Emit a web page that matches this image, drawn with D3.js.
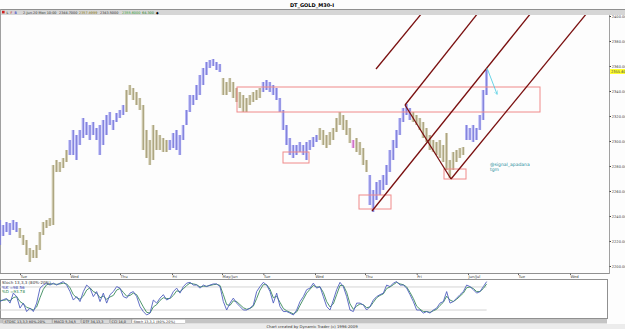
<!DOCTYPE html>
<html>
<head>
<meta charset="utf-8">
<script src="https://cdn.jsdelivr.net/npm/d3@7"></script>
<style>
body { margin: 0; background: #ffffff; }
svg text { font-family: "DejaVu Sans", sans-serif; }
</style>
</head>
<body>
<div id="chart"></div>
<script>
// price bars (one slot per bar)
var priceHigh = [
    2236.8, 2232.8, 2235.2, 2234.4, 2236.8, 2235.2, 2230.4, 2224.8, 2220.8, 2214.4,
    2212.8, 2216.8, 2227.2, 2235.2, 2236.8, 2238.4, 2280.8, 2284.8, 2283.2, 2286.4,
    2292.8, 2300.8, 2308.8, 2304.8, 2308.8, 2318.4, 2315.2, 2312.8, 2315.2, 2310.4,
    2312.8, 2316.8, 2320.8, 2323.2, 2316.8, 2322.4, 2324.8, 2328.8, 2340.8, 2344.8,
    2342.4, 2339.2, 2334.4, 2328.8, 2308.8, 2300.8, 2312.8, 2308.8, 2304.8, 2302.4,
    2300.8, 2300.8, 2306.4, 2308.8, 2304.8, 2312.8, 2324.8, 2336.8, 2336.8, 2344.8,
    2352.8, 2358.4, 2363.2, 2364.8, 2365.6, 2363.2, 2361.6, 2350.4, 2347.2, 2350.4,
    2347.2, 2342.4, 2339.2, 2336.8, 2334.4, 2336.8, 2339.2, 2340.8, 2342.4, 2347.2,
    2348.8, 2347.2, 2344.8, 2342.4, 2334.4, 2324.8, 2312.8, 2302.4, 2296.8, 2296.8,
    2299.2, 2296.8, 2299.2, 2300.8, 2303.2, 2304.8, 2310.4, 2308.8, 2304.8, 2307.2,
    2310.4, 2318.4, 2323.2, 2320.8, 2316.8, 2310.4, 2300.8, 2302.4, 2299.2, 2294.4,
    2284.8, 2272.8, 2260.8, 2267.2, 2268.8, 2272.8, 2280.8, 2292.8, 2300.8, 2308.8,
    2318.4, 2326.4, 2329.6, 2326.4, 2323.2, 2320.8, 2318.4, 2315.2, 2310.4, 2304.8,
    2300.8, 2299.2, 2300.8, 2296.8, 2306.4, 2284.8, 2291.2, 2292.8, 2294.4, 2295.2,
    2312.8, 2310.4, 2312.8, 2310.4, 2320.8, 2340.8, 2356.8
];
var priceLow = [
    2216.8, 2224.0, 2227.2, 2224.8, 2228.8, 2227.2, 2222.4, 2216.8, 2208.8, 2203.2,
    2206.4, 2206.4, 2212.8, 2224.8, 2230.4, 2232.0, 2232.8, 2275.2, 2275.2, 2278.4,
    2283.2, 2288.8, 2288.8, 2284.8, 2296.8, 2302.4, 2304.8, 2300.8, 2304.8, 2300.8,
    2288.8, 2296.8, 2304.8, 2312.8, 2308.8, 2315.2, 2318.4, 2320.8, 2323.2, 2336.8,
    2332.8, 2328.8, 2324.8, 2292.8, 2286.4, 2280.8, 2284.8, 2292.8, 2292.8, 2291.2,
    2291.2, 2292.8, 2294.4, 2292.8, 2288.8, 2300.8, 2312.8, 2323.2, 2328.8, 2332.8,
    2336.8, 2344.8, 2352.8, 2358.4, 2360.0, 2356.8, 2355.2, 2336.8, 2336.8, 2339.2,
    2334.4, 2331.2, 2326.4, 2323.2, 2323.2, 2328.8, 2331.2, 2332.8, 2334.4, 2339.2,
    2340.8, 2339.2, 2336.8, 2332.8, 2323.2, 2308.8, 2296.8, 2288.8, 2286.4, 2288.8,
    2291.2, 2288.8, 2284.8, 2292.8, 2295.2, 2299.2, 2300.8, 2296.8, 2294.4, 2296.8,
    2300.8, 2307.2, 2312.8, 2308.8, 2304.8, 2298.4, 2294.4, 2291.2, 2288.8, 2280.8,
    2275.2, 2248.8, 2243.2, 2252.8, 2256.8, 2260.8, 2264.8, 2275.2, 2284.8, 2294.4,
    2304.8, 2315.2, 2320.8, 2316.8, 2315.2, 2312.8, 2308.8, 2302.4, 2299.2, 2292.8,
    2291.2, 2288.8, 2286.4, 2283.2, 2276.8, 2270.4, 2276.8, 2283.2, 2286.4, 2288.8,
    2300.8, 2300.8, 2299.2, 2300.8, 2308.8, 2316.8, 2336.8
];
// colour runs of the bars: b = blue, k = khaki, p = pink
var barRuns = [["b", 6], ["k", 15], ["b", 17], ["k", 13], ["b", 16], ["k", 12], ["b", 17],
               ["k", 10], ["p", 1], ["k", 4], ["b", 13], ["k", 16], ["b", 7]];

// stochastic oscillator
var stochK = [
    42, 47, 50, 38, 64, 55, 25, 38, 16, 25,
    16, 38, 77, 85, 90, 85, 90, 85, 90, 94,
    85, 68, 46, 55, 42, 68, 85, 77, 55, 68,
    42, 64, 38, 60, 68, 81, 77, 55, 51, 64,
    68, 55, 29, 16, 7, 12, 46, 38, 51, 60,
    46, 51, 68, 77, 64, 81, 90, 92, 85, 85,
    77, 85, 81, 85, 88, 88, 81, 42, 20, 38,
    51, 38, 29, 20, 20, 25, 33, 68, 81, 92,
    85, 68, 38, 64, 29, 16, 16, 12, 7, 20,
    42, 55, 73, 77, 90, 77, 81, 55, 29, 20,
    46, 73, 92, 81, 55, 20, 16, 38, 38, 33,
    20, 29, 46, 55, 60, 64, 85, 81, 90, 94,
    85, 85, 77, 60, 42, 20, 20, 12, 16, 12,
    20, 25, 38, 42, 68, 38, 42, 51, 60, 68,
    85, 81, 73, 64, 68, 81, 94
];
var stochD = [
    45, 45, 47, 44, 52, 55, 42, 36, 27, 24,
    20, 28, 52, 74, 86, 88, 88, 87, 88, 90,
    88, 78, 60, 52, 48, 56, 72, 78, 68, 64,
    52, 56, 48, 54, 58, 72, 76, 66, 56, 58,
    64, 60, 44, 28, 14, 12, 28, 34, 45, 52,
    50, 50, 58, 70, 68, 75, 84, 90, 88, 86,
    80, 82, 82, 84, 86, 87, 84, 60, 34, 32,
    44, 42, 34, 26, 22, 24, 30, 50, 72, 86,
    86, 74, 52, 56, 40, 24, 18, 14, 10, 15,
    32, 48, 64, 74, 84, 80, 80, 66, 42, 28,
    36, 60, 84, 84, 66, 36, 22, 30, 36, 34,
    26, 28, 40, 52, 58, 62, 76, 80, 86, 92,
    88, 86, 80, 66, 50, 30, 22, 16, 16, 14,
    18, 22, 32, 40, 56, 46, 42, 48, 56, 64,
    78, 80, 76, 68, 68, 76, 88
];
var stochLevels = [80, 20];

// axes
var priceTicks = [2400, 2380, 2360, 2340, 2320, 2300, 2280, 2260, 2240, 2220, 2200];
var dayTicks = [6, 21, 36, 51.6, 66.6, 79, 94.5, 109.5, 125, 140.4, 155.4, 171];
var dayLabels = ["Tue", "Wed", "Thu", "Fri", "May/Jun", "Tue", "Wed", "Thu", "Fri", "Jun/Jul", "Tue", "Wed"];
var lastPrice = 2355.6;

// drawn annotations, in bar index / price
var zones = [
    [71.1, 162, 2343.2, 2323.2],
    [84.9, 92.7, 2291.2, 2282.4],
    [107.7, 117.3, 2256.8, 2245.6],
    [133.2, 139.8, 2277.6, 2269.6]
];
var channelLines = [
    [111.6, 2244.0, 159.3, 2402.4],
    [121.5, 2328.8, 143.4, 2402.4],
    [121.5, 2328.8, 135.3, 2269.6],
    [135.3, 2269.6, 176.1, 2402.4],
    [112.8, 2357.6, 126.6, 2402.4]
];
var arrowLine = [146.1, 2358.4, 149.1, 2337.6];

var width = 625,
    height = 329;

var x = d3.scaleLinear().domain([0, 183]).range([0, 610]);
var y = d3.scaleLinear().domain([2196, 2404]).range([271, 11]);
var yOsc = d3.scaleLinear().domain([0, 100]).range([317.7, 279.3]);

var colours = { b: "#8787f2", k: "#b9b184", p: "#e070d8" };
var barKind = [];
barRuns.forEach(function (r) {
    for (var j = 0; j < r[1]; j++) barKind.push(r[0]);
});

var svg = d3.select("#chart")
    .append("svg")
    .attr("width", width)
    .attr("height", height);

// background pieces
svg.append("rect").attr("width", width).attr("height", height).attr("fill", "#fdfdfd");
svg.append("rect").attr("x", 0).attr("y", 9).attr("width", width).attr("height", 6)
    .attr("fill", "#d6d6d6");
svg.append("line").attr("x1", 0).attr("x2", width).attr("y1", 9.5).attr("y2", 9.5)
    .attr("stroke", "#909090");
svg.append("line").attr("x1", 0.5).attr("x2", 0.5).attr("y1", 9).attr("y2", 274)
    .attr("stroke", "#a0a0a0");

svg.append("text").attr("x", 312).attr("y", 7).attr("text-anchor", "middle")
    .attr("font-size", 5).attr("font-weight", "bold").text("DT_GOLD_M30-I");

// header with the last bar
var hdr = svg.append("g").attr("font-size", 3.4);
hdr.append("rect").attr("x", 2).attr("y", 10.8).attr("width", 2.6).attr("height", 2.6).attr("fill", "#d02020");
hdr.append("text").attr("x", 6.5).attr("y", 13.6).attr("fill", "#000").text("L");
hdr.append("text").attr("x", 10.5).attr("y", 13.6).attr("fill", "#c00000").text("F");
hdr.append("text").attr("x", 14.5).attr("y", 13.6).attr("fill", "#0000c0").text("B");
var hdrParts = [
    ["2-Jun-20 Mon 10:00", "#303030", 23],
    ["2344.7000", "#303030", 59],
    ["2357.8999", "#807000", 79],
    ["2343.5000", "#303030", 100],
    ["2355.6000", "#30a030", 122],
    ["64.300", "#208020", 142]
];
hdrParts.forEach(function (p) {
    hdr.append("text").attr("x", p[2]).attr("y", 13.6).attr("fill", p[1]).text(p[0]);
});
hdr.append("text").attr("x", 156).attr("y", 13.8).attr("fill", "#000").text("◆");

// price area
svg.append("clipPath").attr("id", "plot")
    .append("rect").attr("x", 0).attr("y", 15).attr("width", 609).attr("height", 258);
var plot = svg.append("g").attr("clip-path", "url(#plot)");

var bw = x(1) - x(0);
plot.selectAll("rect.bar")
    .data(priceHigh)
    .enter().append("rect")
    .attr("class", "bar")
    .attr("x", function (d, i) { return x(i) - bw / 2; })
    .attr("y", function (d) { return y(d); })
    .attr("width", bw * 0.85)
    .attr("height", function (d, i) { return y(priceLow[i]) - y(d); })
    .attr("fill", function (d, i) { return colours[barKind[i]]; })
    .attr("opacity", 0.6);

// darker spine through each bar
plot.selectAll("line.spine")
    .data(priceHigh)
    .enter().append("line")
    .attr("x1", function (d, i) { return x(i); })
    .attr("x2", function (d, i) { return x(i); })
    .attr("y1", function (d) { return y(d); })
    .attr("y2", function (d, i) { return y(priceLow[i]); })
    .attr("stroke", function (d, i) { return d3.color(colours[barKind[i]]).darker(0.4); })
    .attr("stroke-width", 0.9);

plot.selectAll("rect.zone")
    .data(zones)
    .enter().append("rect")
    .attr("class", "zone")
    .attr("x", function (d) { return x(d[0]); })
    .attr("y", function (d) { return y(d[2]); })
    .attr("width", function (d) { return x(d[1]) - x(d[0]); })
    .attr("height", function (d) { return y(d[3]) - y(d[2]); })
    .attr("fill", "none")
    .attr("stroke", "#f08a8a")
    .attr("stroke-width", 1);

plot.selectAll("line.channel")
    .data(channelLines)
    .enter().append("line")
    .attr("x1", function (d) { return x(d[0]); })
    .attr("y1", function (d) { return y(d[1]); })
    .attr("x2", function (d) { return x(d[2]); })
    .attr("y2", function (d) { return y(d[3]); })
    .attr("stroke", "#7a1010")
    .attr("stroke-width", 1.3);

svg.append("defs").append("marker")
    .attr("id", "arrow")
    .attr("viewBox", "0 -5 10 10")
    .attr("refX", 8).attr("refY", 0)
    .attr("markerWidth", 5).attr("markerHeight", 5)
    .attr("orient", "auto")
    .append("path").attr("d", "M0,-5L10,0L0,5").attr("fill", "none").attr("stroke", "#40c8e0");

plot.append("line")
    .attr("x1", x(arrowLine[0])).attr("y1", y(arrowLine[1]))
    .attr("x2", x(arrowLine[2])).attr("y2", y(arrowLine[3]))
    .attr("stroke", "#40c8e0").attr("stroke-width", 0.8)
    .attr("marker-end", "url(#arrow)");

var note = plot.append("text").attr("font-size", 4.5).attr("fill", "#2a8fa0");
note.append("tspan").attr("x", x(147)).attr("y", y(2280)).text("@signal_apadana");
note.append("tspan").attr("x", x(147)).attr("y", y(2280) + 5).text("tgm");

// right price axis
svg.append("line").attr("x1", 609.5).attr("x2", 609.5).attr("y1", 15).attr("y2", 274)
    .attr("stroke", "#a0a0a0");
var yAxis = svg.append("g")
    .attr("transform", "translate(609.5,0)")
    .call(d3.axisRight(y).tickValues(priceTicks).tickSize(1.5).tickPadding(0.8)
        .tickFormat(d3.format(".4f")));
yAxis.select(".domain").remove();
yAxis.selectAll("text").attr("font-size", 3.6).attr("fill", "#404040");
yAxis.selectAll("line").attr("stroke", "#404040");

svg.append("rect").attr("x", 610).attr("y", y(lastPrice) - 2.5).attr("width", 15).attr("height", 5)
    .attr("fill", "#ffff30");
svg.append("text").attr("x", 611).attr("y", y(lastPrice) + 1.3).attr("font-size", 3.6)
    .attr("fill", "#404040").text(d3.format(".4f")(lastPrice));

// date axis
var xAxis = svg.append("g")
    .attr("transform", "translate(0,273.5)")
    .call(d3.axisBottom(x).tickValues(dayTicks).tickSize(1.5).tickPadding(0.5)
        .tickFormat(function (d, i) { return dayLabels[i]; }));
xAxis.select(".domain").attr("d", "M0,0H609").attr("stroke", "#909090");
xAxis.selectAll("text").attr("font-size", 3.8).attr("fill", "#404040").attr("text-anchor", "start");
xAxis.selectAll("line").attr("stroke", "#606060");

// oscillator panel
svg.append("rect").attr("x", 0.5).attr("y", 279.5).attr("width", 607).attr("height", 39)
    .attr("fill", "#ffffff").attr("stroke", "#909090");

svg.selectAll("line.level")
    .data(stochLevels)
    .enter().append("line")
    .attr("x1", x(0)).attr("x2", x(stochK.length - 1))
    .attr("y1", function (d) { return yOsc(d); })
    .attr("y2", function (d) { return yOsc(d); })
    .attr("stroke", "#c8c8c8").attr("stroke-width", 0.8);

var stochLine = d3.line()
    .x(function (d, i) { return x(i); })
    .y(function (d) { return yOsc(d); });

svg.append("path").datum(stochD).attr("d", stochLine)
    .attr("fill", "none").attr("stroke", "#3a8a5a").attr("stroke-width", 0.9);
svg.append("path").datum(stochK).attr("d", stochLine)
    .attr("fill", "none").attr("stroke", "#5060c0").attr("stroke-width", 0.9);

var leg = svg.append("g").attr("font-size", 4);
leg.append("text").attr("x", 2).attr("y", 284).attr("fill", "#303030").text("Stoch 13,3,3 (80%-20%)");
leg.append("text").attr("x", 2).attr("y", 288.5).attr("fill", "#3040b0").text("%K =98.56");
leg.append("text").attr("x", 2).attr("y", 293).attr("fill", "#208040").text("%D =93.78");

// bottom tab strip and footer
svg.append("rect").attr("x", 0).attr("y", 319).attr("width", 607).attr("height", 4.5)
    .attr("fill", "#c4c4c4");
var tabs = ["STOSC 13,3,3 80%-20%", "MACD 5,34,5", "DTF 34,13,3", "CCI 14,0", "Stoch 13,3,1 (80%-20%)"];
var tabX = 3;
tabs.forEach(function (t, i) {
    var w = t.length * 2.3 + 3;
    svg.append("rect").attr("x", tabX).attr("y", 319.3).attr("width", w).attr("height", 4)
        .attr("fill", i == tabs.length - 1 ? "#ffffff" : "#d8d8d8").attr("stroke", "#888").attr("stroke-width", 0.3);
    svg.append("text").attr("x", tabX + 1.5).attr("y", 322.6).attr("font-size", 3.4)
        .attr("fill", "#202020").text(t);
    tabX += w + 0.5;
});
svg.append("rect").attr("x", 0).attr("y", 324).attr("width", width).attr("height", 5)
    .attr("fill", "#ececec");
svg.append("text").attr("x", 312).attr("y", 328).attr("text-anchor", "middle")
    .attr("font-size", 3.8).attr("fill", "#303030")
    .text("Chart created by Dynamic Trader  (c)  1996-2009");
</script>
</body>
</html>
